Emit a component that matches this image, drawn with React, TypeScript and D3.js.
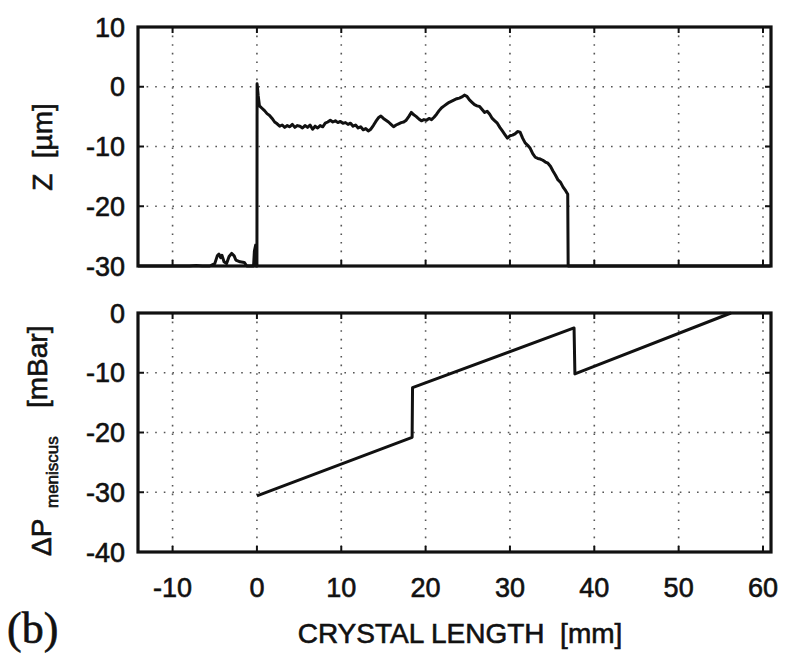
import React from "react";
import * as d3 from "d3";

// ---- data ----
const xTicks = [-10, 0, 10, 20, 30, 40, 50, 60];
const zTicks = [10, 0, -10, -20, -30];
const pTicks = [0, -10, -20, -30, -40];

// Z profile (mm, µm)
const zLength = [-14.1,-8,-7.2,-6.5,-5.6,-5.0,-4.7,-4.5,-4.3,-4.15,-3.9,-3.6,-3.3,-3.0,-2.7,-2.5,-2.0,-1.5,-1.2,-0.4,-0.3,-0.15,-0.1,0,0.02,0.15,0.3,0.6,0.9,1.2,1.5,1.8,2.1,2.4,2.7,3.0,3.3,3.6,3.9,4.2,4.5,4.8,5.1,5.4,5.7,6.0,6.3,6.6,6.9,7.2,7.5,7.8,8.1,8.4,8.7,9.0,9.3,9.6,9.9,10.2,10.5,10.8,11.1,11.4,11.7,12.0,12.3,12.6,12.9,13.2,13.5,13.8,14.1,14.4,14.7,15.0,15.3,15.6,15.9,16.2,16.5,16.8,17.1,17.4,17.7,18.0,18.3,18.6,18.9,19.2,19.5,19.8,20.1,20.4,20.7,21.0,21.3,21.6,21.9,22.2,22.5,22.8,23.1,23.4,23.7,24.0,24.3,24.6,24.9,25.2,25.5,25.8,26.1,26.4,26.7,27.0,27.3,27.6,27.9,28.2,28.5,28.8,29.1,29.4,29.7,30.0,30.3,30.6,30.9,31.2,31.5,31.8,32.1,32.4,32.7,33.0,33.3,33.6,33.9,34.2,34.5,34.8,35.1,35.4,35.7,36.0,36.3,36.6,36.85,36.9,60.9];
const zValue = [-30,-30,-29.9,-30,-30,-29.6,-28.3,-28.0,-28.6,-28.2,-29.3,-29.6,-28.4,-27.9,-28.3,-29.0,-29.3,-29.4,-30,-30,-27.5,-26.5,-30,-30,0.5,-1.5,-3.2,-3.6,-4.0,-4.5,-4.8,-5.3,-5.9,-6.2,-6.6,-6.4,-6.8,-6.5,-6.7,-6.3,-6.8,-6.5,-6.6,-6.9,-6.5,-6.8,-6.4,-7.1,-6.6,-6.9,-6.5,-6.7,-6.1,-5.9,-5.6,-5.9,-5.7,-6.0,-5.8,-6.1,-6.0,-6.3,-6.1,-6.6,-6.4,-6.9,-6.7,-7.2,-7.0,-7.4,-7.1,-6.5,-5.8,-5.2,-4.9,-5.3,-5.6,-5.9,-6.3,-6.7,-6.4,-6.2,-6.0,-5.9,-5.6,-5.0,-4.3,-4.7,-5.0,-5.4,-5.7,-5.5,-5.6,-5.3,-5.5,-5.1,-4.6,-4.0,-3.5,-3.2,-2.9,-2.6,-2.4,-2.2,-2.0,-1.9,-1.7,-1.4,-1.6,-2.2,-2.6,-3.0,-3.2,-3.3,-3.8,-4.3,-4.1,-4.6,-5.3,-5.7,-6.1,-6.8,-7.4,-8.0,-8.6,-8.2,-8.1,-7.9,-7.5,-7.6,-8.6,-9.4,-9.8,-10.3,-11.2,-11.8,-12.0,-12.1,-12.3,-12.6,-12.8,-13.3,-14.1,-14.8,-15.6,-16.0,-16.8,-17.4,-18.0,-30,-30];

// meniscus pressure difference (mm, mBar)
const pLength = [0, 18.4, 18.45, 37.6, 37.7, 56.2];
const pValue = [-30.6, -20.8, -12.5, -2.5, -10.2, 0];

const W = 797, H = 656;
const L = 138, R = 771;
const topBox = { t: 27, b: 266 };
const botBox = { t: 313, b: 552 };
const FONT = "'Liberation Sans', Arial, Helvetica, sans-serif";
const INK = "#111";
const textStyle = { stroke: INK, strokeWidth: 0.6, whiteSpace: "pre" as const };

export default function App() {
  const x = d3.scaleLinear().domain([-14.1, 60.95]).range([L, R]);
  const yZ = d3.scaleLinear().domain([-30, 10]).range([topBox.b, topBox.t]);
  const yP = d3.scaleLinear().domain([-40, 0]).range([botBox.b, botBox.t]);

  const zLine = d3.line<number>().x((_, i) => x(zLength[i])).y((d) => yZ(d));
  const pLine = d3.line<number>().x((_, i) => x(pLength[i])).y((d) => yP(d));

  const panel = (box: { t: number; b: number }, y: d3.ScaleLinear<number, number>, ticks: number[], key: string) => (
    <g key={key}>
      {xTicks.map((t) => (
        <line key={"gx" + t} x1={x(t)} x2={x(t)} y1={box.t} y2={box.b} stroke="#555" strokeWidth={1.6} strokeDasharray="1.6 7" />
      ))}
      {ticks.map((t) => (
        <line key={"gy" + t} x1={L} x2={R} y1={y(t)} y2={y(t)} stroke="#555" strokeWidth={1.6} strokeDasharray="1.6 7" />
      ))}
      {xTicks.map((t) => (
        <g key={"tx" + t}>
          <line x1={x(t)} x2={x(t)} y1={box.b} y2={box.b - 6} stroke={INK} strokeWidth={2} />
          <line x1={x(t)} x2={x(t)} y1={box.t} y2={box.t + 6} stroke={INK} strokeWidth={2} />
        </g>
      ))}
      {ticks.map((t) => (
        <g key={"ty" + t}>
          <line x1={L} x2={L + 6} y1={y(t)} y2={y(t)} stroke={INK} strokeWidth={2} />
          <line x1={R} x2={R - 6} y1={y(t)} y2={y(t)} stroke={INK} strokeWidth={2} />
          <text x={125} y={y(t)} dy="0.36em" textAnchor="end" fontSize={27} fontFamily={FONT} fill={INK} style={textStyle}>
            {t}
          </text>
        </g>
      ))}
    </g>
  );

  return (
    <svg width={W} height={H} style={{ position: "absolute", left: 0, top: 0, background: "#fff" }}>
      <rect x={0} y={0} width={W} height={H} fill="#fff" />
      {panel(topBox, yZ, zTicks, "top")}
      {panel(botBox, yP, pTicks, "bot")}
      <path d={zLine(zValue) || ""} fill="none" stroke={INK} strokeWidth={3} strokeLinejoin="round" />
      <path d={pLine(pValue) || ""} fill="none" stroke={INK} strokeWidth={3} strokeLinejoin="round" />
      <rect x={L} y={topBox.t} width={R - L} height={topBox.b - topBox.t} fill="none" stroke={INK} strokeWidth={3.2} />
      <rect x={L} y={botBox.t} width={R - L} height={botBox.b - botBox.t} fill="none" stroke={INK} strokeWidth={3.2} />
      {xTicks.map((t) => (
        <text key={"xl" + t} x={x(t)} y={597} textAnchor="middle" fontSize={27} fontFamily={FONT} fill={INK} style={textStyle}>
          {t}
        </text>
      ))}
      <text x={460} y={643} textAnchor="middle" fontSize={28} fontFamily={FONT} fill={INK} style={textStyle}>
        {"CRYSTAL LENGTH  [mm]"}
      </text>
      <text x={7} y={643} fontSize={44} fontFamily="'Liberation Serif', 'Times New Roman', serif" fill={INK} style={textStyle}>
        (b)
      </text>
      <text transform="translate(52,147) rotate(-90)" textAnchor="middle" fontSize={28} fontFamily={FONT} fill={INK} style={textStyle}>
        {"Z  [µm]"}
      </text>
      <text transform="translate(51,556) rotate(-90)" textAnchor="start" fontSize={28} fontFamily={FONT} fill={INK} style={textStyle}>
        ΔP
      </text>
      <text transform="translate(58,508) rotate(-90)" textAnchor="start" fontSize={17} fontFamily={FONT} fill={INK} style={textStyle}>
        meniscus
      </text>
      <text transform="translate(47,408) rotate(-90)" textAnchor="start" fontSize={28} fontFamily={FONT} fill={INK} style={textStyle}>
        [mBar]
      </text>
    </svg>
  );
}
